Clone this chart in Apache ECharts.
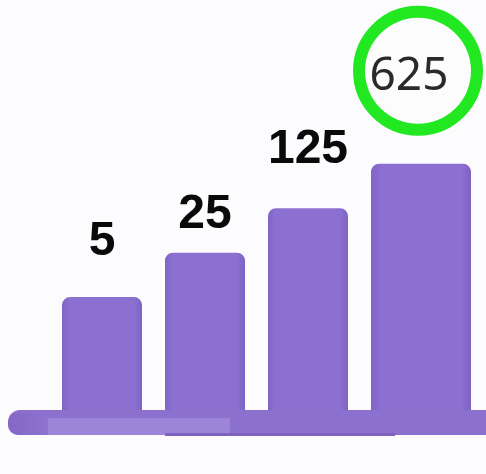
<!DOCTYPE html>
<html>
<head>
<meta charset="utf-8">
<script src="https://cdn.jsdelivr.net/npm/echarts@6/dist/echarts.min.js"></script>
<style>
html,body{margin:0;padding:0;background:#fcfbfd;}
#c{width:486px;height:474px;}
</style>
</head>
<body>
<div id="c"></div>
<script>
const categories = ['A', 'B', 'C', 'D'];
const values = [5, 25, 125, 625];
const highlightIndex = 3;

const barFill = {
  type: 'linear', x: 0, y: 0, x2: 1, y2: 0,
  colorStops: [
    {offset: 0, color: '#8064c8'},
    {offset: 0.1, color: '#8b70d1'},
    {offset: 0.9, color: '#8b70d1'},
    {offset: 1, color: '#7e62c4'}
  ]
};
const labelDist = [31, 14, 34];

const normalData = values.map((v, i) => i === highlightIndex ? '-' : {
  value: v,
  label: {distance: labelDist[i]}
});
const highData = values.map((v, i) => i === highlightIndex ? {value: v} : '-');

const chart = echarts.init(document.getElementById('c'), null, {renderer: 'canvas'});
chart.setOption({
  backgroundColor: '#fcfbfd',
  animation: false,
  grid: {left: 50.5, right: 23.5, top: 10, bottom: 64},
  xAxis: {type: 'category', data: categories, show: false},
  yAxis: {type: 'log', logBase: 5, min: 0.0835, max: 165000, startValue: 0.0835, show: false},
  graphic: [
    {type: 'rect', z: 1, shape: {x: 8, y: 410, width: 490, height: 25, r: [12, 0, 0, 12]},
      style: {fill: '#8b70ce'}},
    {type: 'rect', z: 1, shape: {x: 48, y: 418, width: 182, height: 17},
      style: {fill: '#9c84d8'}},
    {type: 'rect', z: 1, shape: {x: 8, y: 413, width: 40, height: 22, r: [10, 0, 0, 10]},
      style: {fill: {type: 'linear', x: 0, y: 0, x2: 1, y2: 0, colorStops: [
        {offset: 0, color: '#8467c6'}, {offset: 1, color: '#8d72d0'}]}}},
    {type: 'rect', z: 1, shape: {x: 165, y: 433, width: 230, height: 3},
      style: {fill: '#7d62c0'}}
  ],
  series: [
    {
      type: 'bar', z: 3, clip: false, data: highData, barWidth: 100, barGap: '-100%',
      itemStyle: {color: barFill, borderRadius: [8, 8, 0, 0]},
      label: {
        show: true, position: 'top', distance: 40, offset: [-3, 0],
        width: 88, height: 94, lineHeight: 94, padding: [12, 18, 0, 0], align: 'center',
        backgroundColor: '#fdfcfd', borderColor: '#22e822', borderWidth: 12, borderRadius: 65,
        fontSize: 46, fontFamily: 'Noto Sans', color: '#2a2a2a'
      }
    },
    {
      type: 'bar', z: 3, clip: false, data: normalData, barWidth: 80, barGap: '-100%',
      itemStyle: {color: barFill, borderRadius: [8, 8, 0, 0]},
      label: {
        show: true, position: 'top', fontSize: 48, fontWeight: 'bold',
        fontFamily: 'Liberation Sans', color: '#0a0a0a', lineHeight: 48
      }
    }
  ]
});
</script>
</body>
</html>
